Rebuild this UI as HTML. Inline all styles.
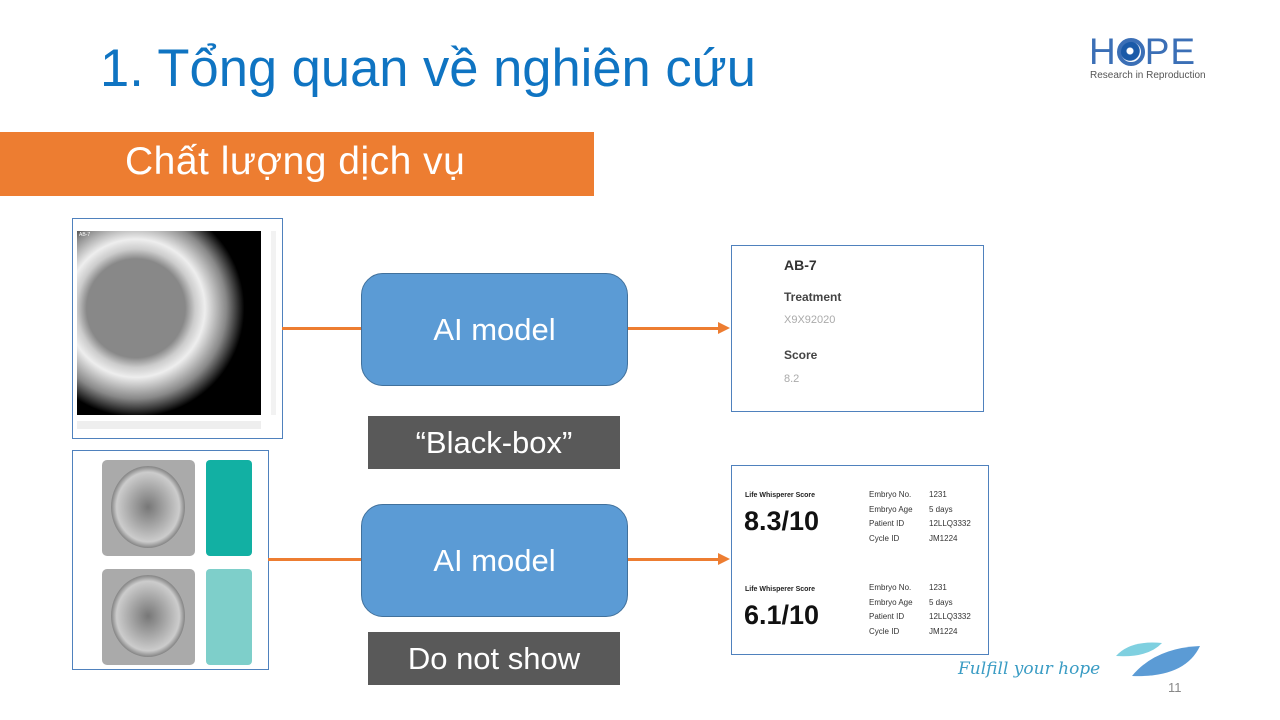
<!DOCTYPE html>
<html><head><meta charset="utf-8"><style>
body{margin:0;width:1280px;height:720px;background:#fff;position:relative;overflow:hidden;font-family:"Liberation Sans",sans-serif}
.a{position:absolute}
.box{position:absolute;background:#5b9bd5;border:1px solid #41719c;border-radius:22px;color:#fff;font-size:31px;display:flex;align-items:center;justify-content:center}
.dk{position:absolute;background:#595959;color:#fff;font-size:31px;display:flex;align-items:center;justify-content:center}
.ln{position:absolute;height:3px;background:#ed7d31}
.fr{position:absolute;border:1px solid #4f81bd;background:#fff}
.s{font-size:9px;color:#333}
</style></head><body>
<div class="a" style="left:100px;top:38px;font-size:52.5px;color:#0f74c2">1. Tổng quan về nghiên cứu</div>
<div class="a" style="left:1089px;top:31px;font-size:37px;color:#3b6fb6;letter-spacing:1px">H<span style="display:inline-block;width:28px;height:28px;border-radius:50%;border:4px solid #3b6fb6;box-sizing:border-box;vertical-align:-2px;background:radial-gradient(circle at 45% 45%,#fff 0 20%,#1a5aa8 25% 60%,#fff 65%)"></span>PE</div>
<div class="a" style="left:1090px;top:70px;font-size:10px;color:#555">Research in Reproduction</div>
<div class="a" style="left:0;top:132px;width:594px;height:64px;background:#ed7d31"></div>
<div class="a" style="left:125px;top:140px;font-size:39px;color:#fff;letter-spacing:0.5px">Chất lượng dịch vụ</div>

<div class="fr" style="left:72px;top:218px;width:209px;height:219px"></div>
<div class="a" style="left:77px;top:231px;width:184px;height:184px;background:radial-gradient(circle at 32% 42%,#888 0 30%,#ccc 36%,#eee 42%,#888 55%,#000 66%)"></div>
<div class="a" style="left:79px;top:232px;font-size:5px;color:#fff">AB-7</div>
<div class="a" style="left:77px;top:421px;width:184px;height:8px;background:#eee"></div>
<div class="a" style="left:271px;top:231px;width:5px;height:184px;background:#f2f2f2"></div>

<div class="fr" style="left:72px;top:450px;width:195px;height:218px"></div>
<div class="a" style="left:102px;top:460px;width:93px;height:96px;background:#aaa;border-radius:5px"><div style="margin:6px 9px;width:74px;height:82px;border-radius:50%;background:radial-gradient(#777,#ccc 60%,#888 70%,#bbb)"></div></div>
<div class="a" style="left:102px;top:569px;width:93px;height:96px;background:#aaa;border-radius:5px"><div style="margin:6px 9px;width:74px;height:82px;border-radius:50%;background:radial-gradient(#777,#ccc 60%,#888 70%,#bbb)"></div></div>
<div class="a" style="left:206px;top:460px;width:46px;height:96px;background:#12b0a3;border-radius:4px"></div>
<div class="a" style="left:206px;top:569px;width:46px;height:96px;background:#7ecfca;border-radius:4px"></div>

<div class="ln" style="left:282px;top:327px;width:80px"></div>
<div class="ln" style="left:268px;top:558px;width:94px"></div>
<div class="ln" style="left:628px;top:327px;width:92px"></div>
<div class="ln" style="left:628px;top:558px;width:92px"></div>
<div class="a" style="left:718px;top:322px;border-left:12px solid #ed7d31;border-top:6px solid transparent;border-bottom:6px solid transparent"></div>
<div class="a" style="left:718px;top:553px;border-left:12px solid #ed7d31;border-top:6px solid transparent;border-bottom:6px solid transparent"></div>

<div class="box" style="left:361px;top:273px;width:265px;height:111px">AI model</div>
<div class="box" style="left:361px;top:504px;width:265px;height:111px">AI model</div>
<div class="dk" style="left:368px;top:416px;width:252px;height:53px">“Black-box”</div>
<div class="dk" style="left:368px;top:632px;width:252px;height:53px">Do not show</div>

<div class="fr" style="left:731px;top:245px;width:251px;height:165px"></div>
<div class="a" style="left:784px;top:257px;font-size:14px;font-weight:bold;color:#333">AB-7</div>
<div class="a" style="left:784px;top:290px;font-size:12px;font-weight:bold;color:#444">Treatment</div>
<div class="a" style="left:784px;top:314px;font-size:11px;color:#aaa">X9X92020</div>
<div class="a" style="left:784px;top:348px;font-size:12px;font-weight:bold;color:#444">Score</div>
<div class="a" style="left:784px;top:373px;font-size:11px;color:#aaa">8.2</div>

<div class="fr" style="left:731px;top:465px;width:256px;height:188px"></div>
<div class="a" style="left:745px;top:492px;font-size:7px;font-weight:bold;color:#222">Life Whisperer Score</div>
<div class="a" style="left:744px;top:506px;font-size:27px;font-weight:bold;color:#111">8.3/10</div>
<div class="a" style="left:745px;top:586px;font-size:7px;font-weight:bold;color:#222">Life Whisperer Score</div>
<div class="a" style="left:744px;top:600px;font-size:27px;font-weight:bold;color:#111">6.1/10</div>
<div class="a s" style="left:869px;top:488px;line-height:14.5px;font-size:8px">Embryo No.<br>Embryo Age<br>Patient ID<br>Cycle ID</div>
<div class="a s" style="left:929px;top:488px;line-height:14.5px;font-size:8px">1231<br>5 days<br>12LLQ3332<br>JM1224</div>
<div class="a s" style="left:869px;top:581px;line-height:14.5px;font-size:8px">Embryo No.<br>Embryo Age<br>Patient ID<br>Cycle ID</div>
<div class="a s" style="left:929px;top:581px;line-height:14.5px;font-size:8px">1231<br>5 days<br>12LLQ3332<br>JM1224</div>

<div class="a" style="left:958px;top:659px;font-size:17px;color:#3a9cc4;font-family:'DejaVu Serif',serif;font-style:italic">Fulfill your hope</div>
<svg class="a" style="left:1110px;top:638px" width="95" height="45"><path d="M6,18 Q20,2 52,5 Q38,20 6,18Z" fill="#7fd0e0"/><path d="M22,38 Q45,10 90,8 Q75,40 22,38Z" fill="#5b9bd5"/></svg>
<div class="a" style="left:1168px;top:680px;font-size:13px;color:#888">11</div>
</body></html>
